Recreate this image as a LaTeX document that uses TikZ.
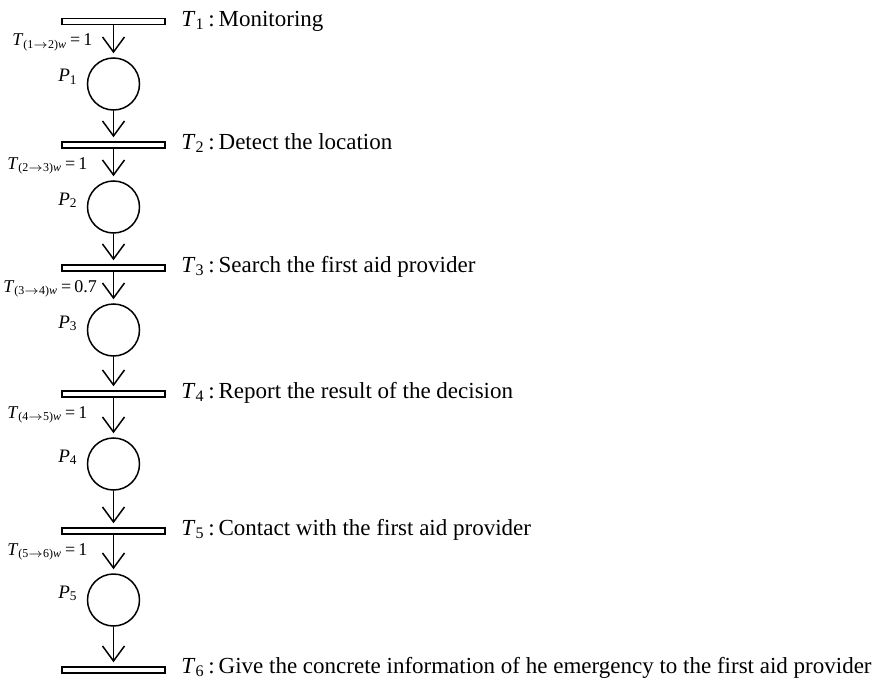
\documentclass[tikz,border=0pt]{standalone}
\usepackage{fontspec}
\setmainfont{Liberation Serif}
\usetikzlibrary{arrows.meta}

\newcommand{\trn}[1]{\textit{T}\textsubscript{#1}}
\newcommand{\plc}[1]{\textit{P}\textsubscript{#1}}
\newcommand{\wgt}[3]{\textit{T}\textsubscript{(#1$\to$#2)\textit{w}}\,=\,#3}

\begin{document}
\begin{tikzpicture}[x=0.5pt,y=-0.5pt,
  bar/.style={draw,line width=0.75pt,rectangle,minimum width=51.5pt,minimum height=3pt,inner sep=0pt},
  place/.style={draw,line width=0.75pt,circle,minimum size=26pt,inner sep=0pt},
  arc/.style={line width=0.75pt,-{Straight Barb[length=7.5pt,width=11pt]},shorten >=2pt},
  ttext/.style={anchor=base west,inner sep=0pt,font=\fontsize{11.5}{13}\selectfont},
  wtext/.style={anchor=base west,inner sep=0pt,font=\fontsize{9}{10}\selectfont},
  ptext/.style={anchor=base east,inner sep=0pt,font=\fontsize{9.5}{11}\selectfont}]
\useasboundingbox (0,0) rectangle (879,680);
% transitions
\node at (113.5,21.5) [bar] (t1) {};
\node at (113.5,145) [bar] (t2) {};
\node at (113.5,268) [bar] (t3) {};
\node at (113.5,394) [bar] (t4) {};
\node at (113.5,531) [bar] (t5) {};
\node at (113.5,670) [bar] (t6) {};
% places
\node at (113.5,84) [place] (p1) {};
\node at (113.5,207) [place] (p2) {};
\node at (113.5,330) [place] (p3) {};
\node at (113.5,464) [place] (p4) {};
\node at (113.5,600) [place] (p5) {};
% arcs
\draw[arc] (t1.south) -- (p1.north);
\draw[arc] (p1.south) -- (t2.north);
\draw[arc] (t2.south) -- (p2.north);
\draw[arc] (p2.south) -- (t3.north);
\draw[arc] (t3.south) -- (p3.north);
\draw[arc] (p3.south) -- (t4.north);
\draw[arc] (t4.south) -- (p4.north);
\draw[arc] (p4.south) -- (t5.north);
\draw[arc] (t5.south) -- (p5.north);
\draw[arc] (p5.south) -- (t6.north);
% transition texts
\node [ttext] (l1) at (181,26) {\trn{1}\,:\,Monitoring};
\node [ttext] (l2) at (181,149) {\trn{2}\,:\,Detect the location};
\node [ttext] (l3) at (181,272) {\trn{3}\,:\,Search the first aid provider};
\node [ttext] (l4) at (181,398) {\trn{4}\,:\,Report the result of the decision};
\node [ttext] (l5) at (181,535) {\trn{5}\,:\,Contact with the first aid provider};
\node [ttext] (l6) at (181,673) {\trn{6}\,:\,Give the concrete information of he emergency to the first aid provider};
% weights
\node [wtext] (w1) at (12,46) {\wgt{1}{2}{1}};
\node [wtext] (w2) at (7,169) {\wgt{2}{3}{1}};
\node [wtext] (w3) at (3,292) {\wgt{3}{4}{0.7}};
\node [wtext] (w4) at (7,418) {\wgt{4}{5}{1}};
\node [wtext] (w5) at (7,555) {\wgt{5}{6}{1}};
% place names
\node [ptext] (n1) at (78,82) {\plc{1}};
\node [ptext] (n2) at (78,205) {\plc{2}};
\node [ptext] (n3) at (78,328) {\plc{3}};
\node [ptext] (n4) at (78,462) {\plc{4}};
\node [ptext] (n5) at (78,598) {\plc{5}};
\end{tikzpicture}
\end{document}
